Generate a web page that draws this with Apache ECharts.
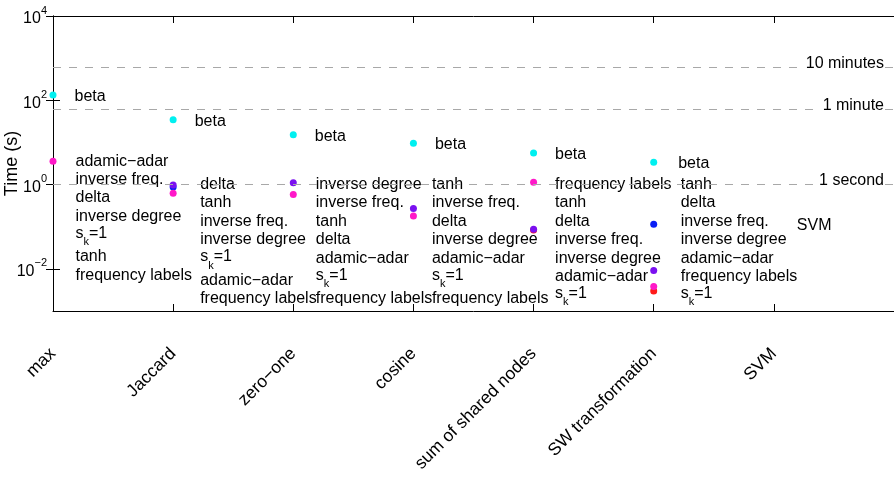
<!DOCTYPE html>
<html><head><meta charset="utf-8">
<script src="https://cdn.jsdelivr.net/npm/echarts@6/dist/echarts.min.js"></script>
<style>html,body{margin:0;padding:0;background:#fff}#c{width:894px;height:480px}</style>
</head><body><div id="c"></div>
<script>
// ---------------- data ----------------
const categories = ['max', 'Jaccard', 'zero\u2212one', 'cosine', 'sum of shared nodes', 'SW transformation', 'SVM'];
// running times in seconds, one value per category (null = no point)
const betaTimes    = [133, 34.4, 15.3, 9.6, 5.6, 3.4, null];
const magentaTimes = [3.6, 0.62, 0.58, 0.18, 1.13, 0.0038, null];
const violetTimes  = [null, 0.98, 1.1, 0.27, 0.087, 0.0091, null];
const blueTimes    = [null, 0.88, null, null, null, 0.115, null];
const redTimes     = [null, null, null, null, 0.083, 0.0030, null];
// ranking text next to every category (top to bottom)
const rankingLabels = [
  ['adamic\u2212adar', 'inverse freq.', 'delta', 'inverse degree', 's_k=1', 'tanh', 'frequency labels'],
  ['delta', 'tanh', 'inverse freq.', 'inverse degree', 's_k=1', 'adamic\u2212adar', 'frequency labels'],
  ['inverse degree', 'inverse freq.', 'tanh', 'delta', 'adamic\u2212adar', 's_k=1', 'frequency labels'],
  ['tanh', 'inverse freq.', 'delta', 'inverse degree', 'adamic\u2212adar', 's_k=1', 'frequency labels'],
  ['frequency labels', 'tanh', 'delta', 'inverse freq.', 'inverse degree', 'adamic\u2212adar', 's_k=1'],
  ['tanh', 'delta', 'inverse freq.', 'inverse degree', 'adamic\u2212adar', 'frequency labels', 's_k=1'],
  ['SVM']
];
const rankingAnchorTimes = [3.6, 1, 1, 1, 1, 1, 0.104];
const betaLabel = 'beta';
const referenceLines = [
  { name: '10 minutes', time: 600 },
  { name: '1 minute', time: 60 },
  { name: '1 second', time: 1 }
];
const yTickValues = [0.01, 1, 100, 10000];
const yAxisTitle = 'Time (s)';

// ---------------- styles ----------------
const FONT = '"Liberation Sans", Arial, Helvetica, sans-serif';
const rankingDx = [22.5, 27, 22.5, 18.5, 21.5, 27, 23];
const betaDx = [21.5, 21.5, 21.5, 21.5, 21.5, 24.5];

function pts(arr) {
  const out = [];
  arr.forEach((v, i) => { if (v != null) out.push([i, v]); });
  return out;
}
function richLine(s) {
  if (s === 's_k=1') return '{s|s}{k|k}{s|=1}';
  return '{n|' + s + '}';
}
function supLabel(v) {
  const e = Math.round(Math.log10(v));
  return '{b|10}{e|' + (e < 0 ? '\u2212' + (-e) : String(e)) + '}';
}

const chart = echarts.init(document.getElementById('c'), null, { renderer: 'canvas' });

const axisLine = { show: true, lineStyle: { color: '#000', width: 1 } };
const tickStyle = { show: true, inside: true, length: 7, lineStyle: { color: '#000', width: 1 } };

function scatter(name, color, arr, extra) {
  return Object.assign({
    name: name, type: 'scatter', xAxisIndex: 0, yAxisIndex: 0,
    symbol: 'circle', symbolSize: 7, silent: true,
    itemStyle: { color: color, opacity: 1 },
    data: pts(arr)
  }, extra || {});
}

const option = {
  animation: false,
  backgroundColor: '#fff',
  textStyle: { fontFamily: FONT, color: '#000' },
  grid: { left: 53, right: 0, top: 16, bottom: 169, containLabel: false, outerBoundsMode: 'none' },
  xAxis: [
    {
      type: 'value', position: 'bottom', min: 0, max: 7, interval: 1,
      axisLine: axisLine, axisTick: tickStyle, splitLine: { show: false },
      axisLabel: {
        show: true, rotate: 45, margin: 40, fontSize: 17.5, color: '#000', fontFamily: FONT,
        showMaxLabel: false, showMinLabel: true,
        formatter: v => (categories[v] != null ? categories[v] : '')
      }
    },
    {
      type: 'value', position: 'top', min: 0, max: 7, interval: 1,
      axisLine: axisLine, axisTick: tickStyle, splitLine: { show: false },
      axisLabel: { show: false }
    }
  ],
  yAxis: [
    {
      type: 'log', logBase: 10, position: 'left', min: 0.001, max: 10000,
      axisLine: axisLine,
      axisTick: Object.assign({}, tickStyle, { customValues: yTickValues }),
      minorTick: { show: false }, splitLine: { show: false },
      axisLabel: {
        show: true, margin: 6, color: '#000', fontFamily: FONT,
        customValues: yTickValues,
        formatter: supLabel,
        rich: {
          b: { fontSize: 16, lineHeight: 22, verticalAlign: 'bottom', color: '#000', fontFamily: FONT },
          e: { fontSize: 11, lineHeight: 10, verticalAlign: 'top', color: '#000', fontFamily: FONT }
        }
      },
      name: yAxisTitle, nameLocation: 'middle', nameGap: 32, nameRotate: 90, nameMoveOverlap: false,
      nameTextStyle: { fontSize: 18, color: '#000', fontFamily: FONT }
    },
    {
      type: 'log', logBase: 10, position: 'right', min: 0.001, max: 10000,
      axisLine: axisLine,
      axisTick: Object.assign({}, tickStyle, { customValues: yTickValues }),
      minorTick: { show: false }, splitLine: { show: false },
      axisLabel: { show: false }
    }
  ],
  series: [
    {
      name: 'reference', type: 'line', xAxisIndex: 0, yAxisIndex: 0, data: [], silent: true,
      markLine: {
        silent: true, symbol: ['none', 'none'], animation: false,
        lineStyle: { color: '#a8a8a8', width: 1, type: [8, 8] },
        label: {
          show: true, position: 'insideEndTop', distance: [9, -4], formatter: '{b}',
          fontSize: 16, color: '#000', fontFamily: FONT,
          backgroundColor: '#fff', padding: [0, 1, 0, 6]
        },
        emphasis: { disabled: true },
        data: referenceLines.map(r => ({ yAxis: r.time, name: r.name }))
      }
    },
    {
      name: 'rankings', type: 'scatter', xAxisIndex: 0, yAxisIndex: 0, silent: true,
      symbol: 'circle', symbolSize: 0.5,
      itemStyle: { color: '#ffffff', opacity: 1 },
      data: rankingAnchorTimes.map((t, i) => ({
        value: [i, t],
        label: { distance: rankingDx[i] - 0.25 }
      })),
      label: {
        show: true, position: 'right', verticalAlign: 'top', align: 'left', offset: [0, -9.2],
        fontSize: 16, lineHeight: 18.4, color: '#000', opacity: 1, fontFamily: FONT,
        formatter: p => rankingLabels[p.dataIndex].map(richLine).join('\n'),
        rich: {
          n: { fontSize: 16, lineHeight: 18.4, color: '#000', fontFamily: FONT },
          s: { fontSize: 16, lineHeight: 8, verticalAlign: 'top', color: '#000', fontFamily: FONT },
          k: { fontSize: 11, lineHeight: 22, verticalAlign: 'bottom', color: '#000', fontFamily: FONT }
        }
      }
    },
    scatter('red', '#ff1a1a', redTimes),
    scatter('blue', '#0a1ef5', blueTimes),
    scatter('violet', '#7a10f0', violetTimes),
    scatter('magenta', '#ff18c8', magentaTimes),
    Object.assign(scatter('beta', '#00f0f0', betaTimes), {
      data: pts(betaTimes).map((p, k) => ({
        value: p,
        label: { distance: betaDx[p[0]] - 3.5 }
      })),
      label: {
        show: true, position: 'right', offset: [0, 1.5], formatter: () => betaLabel,
        fontSize: 16, color: '#000', fontFamily: FONT
      }
    })
  ]
};
chart.setOption(option);
</script>
</body></html>
